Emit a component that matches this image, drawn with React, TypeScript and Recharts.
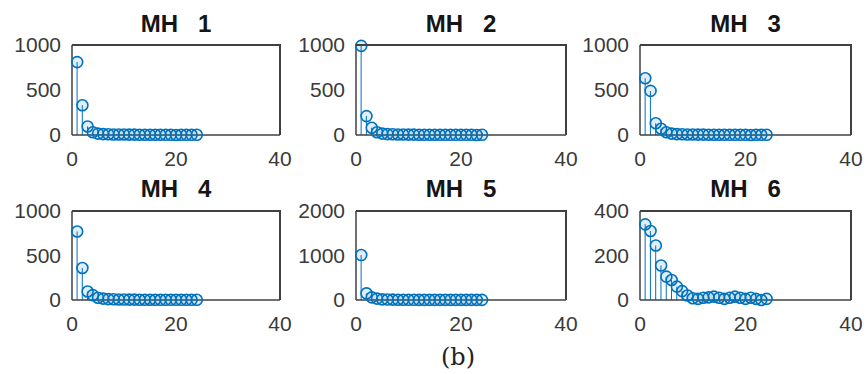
import React from 'react'
import { ComposedChart, Bar, Scatter, XAxis, YAxis } from 'recharts'

const FONT = "'Liberation Sans', Arial, sans-serif"
const BLUE = '#0072BD'
const INK = '#404040'

// stem positions 1..24
const xs = [1, 2, 3, 4, 5, 6, 7, 8, 9, 10, 11, 12, 13, 14, 15, 16, 17, 18, 19, 20, 21, 22, 23, 24]

const mh1 = [810, 330, 95, 30, 15, 10, 8, 6, 5, 5, 4, 4, 3, 3, 3, 3, 3, 2, 2, 0, 2, 2, 2, 2]
const mh2 = [990, 210, 80, 30, 15, 10, 8, 6, 5, 4, 4, 3, 3, 3, 3, 2, 2, 2, 2, 2, 2, 2, 0, 2]
const mh3 = [630, 490, 130, 70, 30, 15, 10, 8, 6, 5, 4, 4, 3, 3, 3, 3, 2, 2, 2, 2, 0, 2, 2, 2]
const mh4 = [770, 360, 95, 55, 25, 15, 10, 8, 6, 5, 4, 4, 3, 3, 3, 3, 2, 2, 2, 2, 2, 2, 2, 2]
const mh5 = [1010, 150, 60, 30, 15, 10, 8, 6, 5, 4, 4, 3, 3, 3, 3, 2, 2, 2, 2, 2, 2, 2, 2, 2]
const mh6 = [340, 310, 245, 155, 105, 90, 60, 40, 20, 8, 5, 10, 12, 15, 10, 5, 10, 15, 10, 5, 10, 5, 0, 5]

const titles = ['MH   1', 'MH   2', 'MH   3', 'MH   4', 'MH   5', 'MH   6']
const xTicks = [0, 20, 40]
const yTicks1k = [0, 500, 1000]
const yTicks2k = [0, 1000, 2000]
const yTicks400 = [0, 200, 400]

const series = [mh1, mh2, mh3, mh4, mh5, mh6]
const yTickSets = [yTicks1k, yTicks1k, yTicks1k, yTicks1k, yTicks2k, yTicks400]

const COL_LEFT = [0, 284, 568]
const COL_RIGHT = [10, 8, 7]
const ROW_TOP = [0, 166]
const ROW_H = [171, 170]
const TITLE_TOP = [12, 177]
const TOP = 45, X_H = 36, Y_W = 72
const EXTRA = 24 // room on the right for the "40" label

function Circle(props: any) {
  const { cx, cy } = props
  if (cx == null || cy == null) return null
  return <circle cx={cx} cy={cy} r={5.5} fill="rgba(0,114,189,0.12)" stroke={BLUE} strokeWidth={1.6} />
}

function Panel({ i }: { i: number }) {
  const col = i % 3
  const row = Math.floor(i / 3)
  const data = xs.map((x, k) => ({ x, y: series[i][k] }))
  const yt = yTickSets[i]
  const yMax = yt[yt.length - 1]
  const left = COL_LEFT[col]
  const plotLeft = left + Y_W
  const plotW = 290 - Y_W - COL_RIGHT[col]
  const plotTop = ROW_TOP[row] + TOP
  const plotH = ROW_H[row] - TOP - X_H
  const tick = { fill: '#3a3a3a', fontSize: 21, fontFamily: FONT }
  const line = { stroke: INK, strokeWidth: 1.5 }
  return (
    <>
      <div style={{position:'absolute',left:plotLeft,top:TITLE_TOP[row],width:plotW,textAlign:'center',
        fontFamily:FONT,fontWeight:700,fontSize:24,lineHeight:'24px',color:'#151515',whiteSpace:'pre'}}>
        {titles[i]}
      </div>
      <div style={{position:'absolute',left,top:ROW_TOP[row]}}>
        <ComposedChart width={290 + EXTRA} height={ROW_H[row]} data={data}
          margin={{top:TOP,right:COL_RIGHT[col] + EXTRA,left:0,bottom:0}}>
          <XAxis dataKey="x" type="number" domain={[0, 40]} ticks={xTicks} interval={0} height={X_H}
            tickLine={false} tickSize={8} tickMargin={8} axisLine={line} tick={tick}/>
          <YAxis type="number" domain={[0, yMax]} ticks={yt} interval={0} width={Y_W}
            tickLine={false} tickSize={8} tickMargin={3} axisLine={line} tick={tick}/>
          <Bar dataKey="y" barSize={1} fill={BLUE} isAnimationActive={false}/>
          <Scatter dataKey="y" shape={<Circle/>} isAnimationActive={false}/>
        </ComposedChart>
      </div>
      {/* top and right edges of the axes box, drawn over the chart */}
      <div style={{position:'absolute',zIndex:5,left:plotLeft,top:plotTop - 1,width:plotW - 1,height:plotH - 1,
        borderTop:`2px solid ${INK}`,borderRight:`2px solid ${INK}`,pointerEvents:'none'}}/>
    </>
  )
}

export default function App() {
  return (
    <div style={{position:'absolute',left:0,top:0,width:867,height:374,background:'#fff',overflow:'hidden'}}>
      {[0, 1, 2, 3, 4, 5].map(i => <Panel key={i} i={i}/>)}
      <div style={{position:'absolute',left:400,top:342,width:116,textAlign:'center',
        fontFamily:"'DejaVu Serif', serif",fontSize:24,lineHeight:'30px',color:'#222'}}>(b)</div>
    </div>
  )
}
